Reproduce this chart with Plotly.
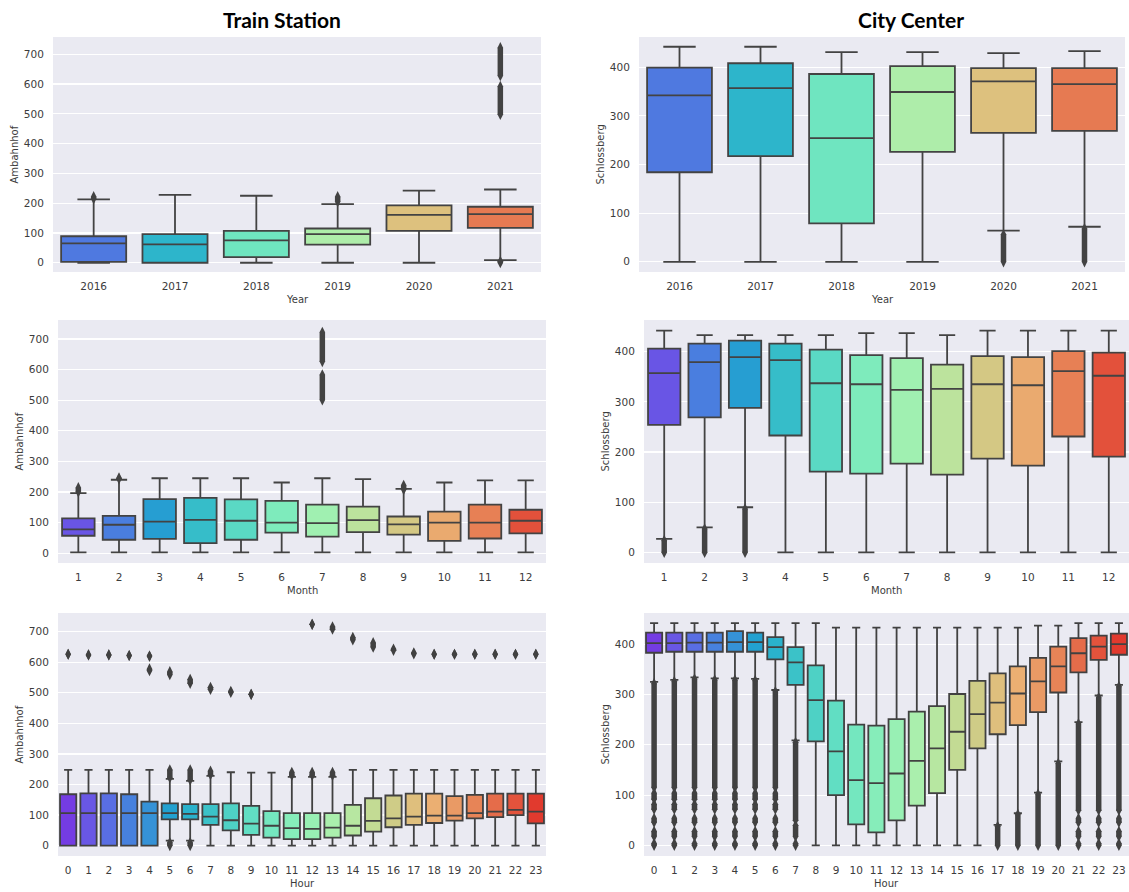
import math
import colorsys
import plotly.graph_objects as go

# ---------------- data ----------------
years = ["2016", "2017", "2018", "2019", "2020", "2021"]
months = ["1", "2", "3", "4", "5", "6", "7", "8", "9", "10", "11", "12"]
hours = ["0", "1", "2", "3", "4", "5", "6", "7", "8", "9", "10", "11",
         "12", "13", "14", "15", "16", "17", "18", "19", "20", "21", "22", "23"]

# Train Station (Ambahnhof) by year
ts_year_q1 = [3, 0, 19, 61, 107, 117]
ts_year_med = [65, 62, 75, 96, 161, 163]
ts_year_q3 = [89, 96, 107, 115, 193, 188]
ts_year_lo = [0, 0, 0, 0, 0, 9]
ts_year_hi = [213, 228, 225, 197, 242, 246]
ts_year_out = [[[215, 222]], [], [], [[205, 222]], [],
               [[0, 5], [498, 592], [628, 722]]]

# City Center (Schlossberg) by year
cc_year_q1 = [184, 217, 79, 226, 265, 269]
cc_year_med = [342, 357, 254, 349, 371, 365]
cc_year_q3 = [399, 408, 386, 402, 398, 398]
cc_year_lo = [0, 0, 0, 0, 64, 72]
cc_year_hi = [442, 442, 431, 431, 429, 433]
cc_year_out = [[], [], [], [], [[0, 56]], [[0, 68]]]

# Train Station by month
ts_month_q1 = [57, 44, 47, 33, 44, 67, 54, 69, 61, 40, 48, 65]
ts_month_med = [78, 93, 103, 109, 106, 100, 98, 108, 94, 100, 100, 106]
ts_month_q3 = [114, 122, 177, 181, 176, 171, 159, 152, 120, 136, 159, 142]
ts_month_lo = [3, 3, 3, 3, 3, 3, 3, 3, 3, 3, 3, 3]
ts_month_hi = [196, 240, 245, 245, 245, 231, 245, 242, 210, 231, 238, 238]
ts_month_out = [[[200, 214]], [[243, 246]], [], [], [], [],
                [[501, 583], [626, 722]], [], [[208, 222]], [], [], []]

# City Center by month
cc_month_q1 = [254, 269, 288, 233, 161, 157, 177, 155, 187, 173, 231, 191]
cc_month_med = [357, 379, 389, 383, 337, 335, 324, 326, 335, 333, 361, 352]
cc_month_q3 = [406, 416, 422, 416, 404, 393, 387, 374, 391, 389, 401, 398]
cc_month_lo = [27, 50, 90, 0, 0, 0, 0, 0, 0, 0, 0, 0]
cc_month_hi = [442, 433, 433, 433, 433, 437, 437, 433, 442, 442, 442, 442]
cc_month_out = [[[0, 24]], [[0, 47]], [[0, 87]], [], [], [], [], [], [], [], [], []]

# Train Station by hour
ts_hour_q1 = [0, 0, 0, 0, 0, 86, 86, 68, 50, 35, 26, 21,
              21, 26, 33, 46, 60, 68, 74, 82, 89, 93, 100, 73]
ts_hour_med = [106, 106, 106, 106, 106, 106, 104, 95, 83, 72, 65, 57,
               55, 59, 65, 81, 89, 95, 98, 98, 106, 111, 117, 111]
ts_hour_q3 = [168, 171, 171, 168, 144, 138, 136, 136, 138, 130, 113, 106,
              106, 106, 133, 155, 164, 170, 170, 162, 166, 170, 170, 170]
ts_hour_lo = [0, 0, 0, 0, 0, 16, 16, 0, 0, 0, 0, 0,
              0, 0, 0, 0, 0, 0, 0, 0, 0, 0, 0, 0]
ts_hour_hi = [248, 248, 248, 248, 248, 218, 212, 228, 240, 239, 239, 225,
              225, 225, 248, 248, 248, 248, 248, 248, 248, 248, 248, 248]
ts_hour_out = [
    [[626, 626]], [[624, 624]], [[624, 624]], [[622, 622]],
    [[572, 578], [620, 620]],
    [[0, 10], [222, 248], [559, 569]],
    [[0, 10], [215, 248], [531, 544]],
    [[232, 244], [511, 518]],
    [[501, 505]], [[495, 495]], [],
    [[230, 240]], [[230, 240], [724, 724]], [[230, 240], [708, 716]],
    [[673, 681]], [[649, 664]], [[639, 643]], [[627, 631]],
    [[626, 626]], [[626, 626]], [[626, 626]], [[626, 626]], [[626, 626]], [[626, 626]],
]

# City Center by hour
cc_hour_q1 = [383, 385, 385, 385, 385, 385, 370, 319, 207, 100, 42, 26,
              50, 79, 104, 150, 193, 221, 239, 265, 304, 344, 369, 379]
cc_hour_med = [402, 402, 403, 403, 404, 404, 394, 364, 289, 187, 130, 124,
               143, 168, 193, 226, 261, 284, 302, 326, 356, 382, 395, 400]
cc_hour_q3 = [423, 423, 423, 423, 426, 423, 414, 394, 358, 288, 240, 238,
              251, 266, 277, 301, 327, 342, 356, 373, 395, 412, 417, 421]
cc_hour_lo = [325, 329, 334, 332, 332, 331, 309, 209, 0, 0, 0, 0,
              0, 0, 0, 0, 0, 41, 64, 105, 167, 245, 298, 319]
cc_hour_hi = [442, 442, 442, 442, 442, 442, 442, 442, 442, 433, 433, 433,
              433, 433, 433, 433, 433, 433, 433, 437, 437, 442, 442, 442]
cc_hour_out = [
    [[0, 4], [18, 28], [46, 54], [72, 82], [92, 104], [115, 322]],
    [[0, 4], [18, 28], [46, 54], [72, 82], [92, 104], [115, 326]],
    [[0, 4], [18, 28], [46, 54], [72, 82], [92, 104], [115, 331]],
    [[0, 4], [18, 28], [46, 54], [72, 82], [92, 104], [115, 329]],
    [[0, 4], [18, 28], [46, 54], [72, 82], [92, 104], [115, 329]],
    [[0, 4], [18, 28], [46, 54], [72, 82], [92, 104], [115, 328]],
    [[0, 4], [18, 28], [46, 54], [72, 82], [92, 104], [115, 306]],
    [[0, 4], [18, 40], [50, 205]],
    [], [], [], [], [], [], [], [], [],
    [[0, 38]], [[0, 62]], [[0, 102]], [[0, 163]],
    [[0, 4], [18, 28], [46, 54], [70, 242]],
    [[0, 4], [18, 28], [46, 54], [70, 294]],
    [[0, 4], [18, 28], [46, 54], [70, 316]],
]

panels = [
    dict(cats=years, q1=ts_year_q1, med=ts_year_med, q3=ts_year_q3, lo=ts_year_lo,
         hi=ts_year_hi, out=ts_year_out, xlab="Year", ylab="Ambahnhof",
         yticks=[0, 100, 200, 300, 400, 500, 600, 700], yr=[-31, 758],
         xd=[53, 541], yd=[37, 272]),
    dict(cats=years, q1=cc_year_q1, med=cc_year_med, q3=cc_year_q3, lo=cc_year_lo,
         hi=cc_year_hi, out=cc_year_out, xlab="Year", ylab="Schlossberg",
         yticks=[0, 100, 200, 300, 400], yr=[-21, 462],
         xd=[639, 1125], yd=[37, 272]),
    dict(cats=months, q1=ts_month_q1, med=ts_month_med, q3=ts_month_q3, lo=ts_month_lo,
         hi=ts_month_hi, out=ts_month_out, xlab="Month", ylab="Ambahnhof",
         yticks=[0, 100, 200, 300, 400, 500, 600, 700], yr=[-32, 762],
         xd=[58, 546], yd=[320, 563]),
    dict(cats=months, q1=cc_month_q1, med=cc_month_med, q3=cc_month_q3, lo=cc_month_lo,
         hi=cc_month_hi, out=cc_month_out, xlab="Month", ylab="Schlossberg",
         yticks=[0, 100, 200, 300, 400], yr=[-21, 463],
         xd=[644, 1129], yd=[320, 563]),
    dict(cats=hours, q1=ts_hour_q1, med=ts_hour_med, q3=ts_hour_q3, lo=ts_hour_lo,
         hi=ts_hour_hi, out=ts_hour_out, xlab="Hour", ylab="Ambahnhof",
         yticks=[0, 100, 200, 300, 400, 500, 600, 700], yr=[-34, 761],
         xd=[58, 546], yd=[613, 856]),
    dict(cats=hours, q1=cc_hour_q1, med=cc_hour_med, q3=cc_hour_q3, lo=cc_hour_lo,
         hi=cc_hour_hi, out=cc_hour_out, xlab="Hour", ylab="Schlossberg",
         yticks=[0, 100, 200, 300, 400], yr=[-21, 462],
         xd=[644, 1129], yd=[613, 856]),
]

W, H = 1129, 892


def rainbow(n):
    cols, lights = [], []
    for i in range(n):
        x = (i + 1) / (n + 1)
        r = min(1.0, max(0.0, abs(2 * x - 0.5)))
        g = min(1.0, max(0.0, math.sin(math.pi * x)))
        b = min(1.0, max(0.0, math.cos(math.pi * x / 2)))
        h, l, s = colorsys.rgb_to_hls(r, g, b)
        r2, g2, b2 = colorsys.hls_to_rgb(h, l, s * 0.75)
        cols.append("rgb(%d,%d,%d)" % (round(r2 * 255), round(g2 * 255), round(b2 * 255)))
        lights.append(l)
    lum = min(lights) * 0.6 * 0.9
    v = round(lum * 255)
    return cols, "rgb(%d,%d,%d)" % (v, v, v)


fig = go.Figure()
layout = dict(width=W, height=H, margin=dict(l=0, r=0, t=0, b=0),
              paper_bgcolor="white", plot_bgcolor="#EAEAF2", showlegend=False)
annotations = []
tickfont = dict(family="DejaVu Sans", size=10.5, color="#3c3c3c")
labfont = dict(family="DejaVu Sans", size=10, color="#3c3c3c")

for k, p in enumerate(panels, start=1):
    n = len(p["cats"])
    cols, gray = rainbow(n)
    xs = "x" if k == 1 else "x%d" % k
    ys = "y" if k == 1 else "y%d" % k
    for i in range(n):
        fig.add_trace(go.Box(
            x=[i], q1=[p["q1"][i]], median=[p["med"][i]], q3=[p["q3"][i]],
            lowerfence=[p["lo"][i]], upperfence=[p["hi"][i]],
            width=0.8, whiskerwidth=0.5, boxpoints=False,
            fillcolor=cols[i], line=dict(color=gray, width=1.8),
            xaxis=xs, yaxis=ys, hoverinfo="skip"))
    ox, oy = [], []
    for i, clusters in enumerate(p["out"]):
        for lo, hi in clusters:
            ox += [i, i, None]
            oy += [lo, hi, None]
    if ox:
        fig.add_trace(go.Scatter(
            x=ox, y=oy, mode="lines+markers",
            line=dict(color=gray, width=5.5),
            marker=dict(symbol="diamond-tall", size=8, color=gray),
            xaxis=xs, yaxis=ys, hoverinfo="skip", connectgaps=False))

    x0, x1 = p["xd"]
    yt, yb = p["yd"]
    xk = "xaxis" if k == 1 else "xaxis%d" % k
    yk = "yaxis" if k == 1 else "yaxis%d" % k
    layout[xk] = dict(domain=[x0 / W, min(1.0, x1 / W)], range=[-0.5, n - 0.5],
                      anchor=ys, tickmode="array", tickvals=list(range(n)),
                      ticktext=p["cats"], showgrid=False, zeroline=False,
                      showline=False, ticks="outside", ticklen=4,
                      tickcolor="rgba(0,0,0,0)", tickfont=tickfont, fixedrange=True)
    layout[yk] = dict(domain=[1 - yb / H, 1 - yt / H], range=p["yr"], anchor=xs,
                      tickmode="array", tickvals=p["yticks"],
                      showgrid=True, gridcolor="white", gridwidth=1.2,
                      zeroline=False, showline=False, ticks="outside", ticklen=6,
                      tickcolor="rgba(0,0,0,0)", tickfont=tickfont, fixedrange=True)
    # axis titles
    annotations.append(dict(text=p["xlab"], xref="paper", yref="paper",
                            x=(x0 + min(x1, W)) / 2 / W, y=1 - (yb + 27) / H,
                            showarrow=False, font=labfont, xanchor="center", yanchor="middle"))
    annotations.append(dict(text=p["ylab"], xref="paper", yref="paper",
                            x=(x0 - 39) / W, y=1 - (yt + yb) / 2 / H, textangle=-90,
                            showarrow=False, font=labfont, xanchor="center", yanchor="middle"))

annotations.append(dict(text="<b>Train Station</b>", xref="paper", yref="paper",
                        x=282 / W, y=1 - 19 / H, showarrow=False,
                        font=dict(family="Lato", size=21, color="black"),
                        xanchor="center", yanchor="middle"))
annotations.append(dict(text="<b>City Center</b>", xref="paper", yref="paper",
                        x=911 / W, y=1 - 19 / H, showarrow=False,
                        font=dict(family="Lato", size=21, color="black"),
                        xanchor="center", yanchor="middle"))
layout["annotations"] = annotations
fig.update_layout(**layout)
fig.write_html("out.html", config={"displayModeBar": False, "staticPlot": True},
               post_script="document.body.style.margin='0px';document.body.style.overflow='hidden';")
